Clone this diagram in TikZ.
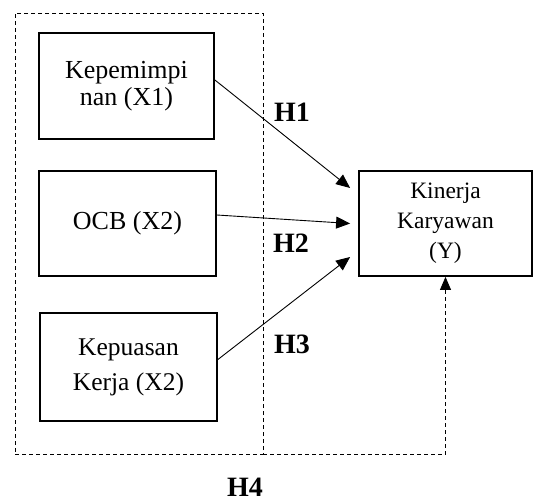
\documentclass[tikz,border=0pt]{standalone}
\usepackage{fontspec}
\setmainfont{Liberation Serif}
\usetikzlibrary{arrows.meta}
\begin{document}
\begin{tikzpicture}[x=1pt,y=-1pt,
  box/.style={draw,line width=1.8pt,inner sep=0pt,align=center},
  lbox/.style={box,font=\fontsize{26}{27}\selectfont},
  hlab/.style={font=\fontsize{28}{30}\selectfont\bfseries,inner sep=0pt,text depth=0pt},
  arr/.style={line width=0.9pt,-{Triangle[length=14pt,width=12pt]}},
  dline/.style={line width=0.8pt,dash pattern=on 4pt off 3pt}]
\useasboundingbox (0,0) rectangle (533,501);
\node[dline,draw,minimum width=248pt,minimum height=441pt,inner sep=0pt] (grp) at (139,233.5) {};
\node[lbox,minimum width=175pt,minimum height=106pt] (b1) at (126.5,86) {Kepemimpi\\nan (X1)};
\node[lbox,minimum width=177pt,minimum height=105pt] (b2) at (127.5,223.5) {OCB (X2)};
\node[box,font=\fontsize{25.5}{35}\selectfont,minimum width=177pt,minimum height=108pt] (b3) at (128.5,367) {Kepuasan\\Kerja (X2)};
\node[box,font=\fontsize{23.5}{30}\selectfont,minimum width=173pt,minimum height=105pt] (y) at (445.5,223.5) {Kinerja\\Karyawan\\(Y)};
\draw[arr] ([yshift=6pt]b1.east) -- ([xshift=-8pt,yshift=35.5pt]y.west);
\draw[arr] ([yshift=8.5pt]b2.east) -- ([xshift=-8pt]y.west);
\draw[arr] ([yshift=7.5pt]b3.east) -- ([xshift=-8pt,yshift=-33.5pt]y.west);
\draw[dline,-{Triangle[length=13pt,width=11pt]}] (grp.south east) -| (y.south);
\node[hlab] (h1) at (292,112) {H1};
\node[hlab] (h2) at (291,243) {H2};
\node[hlab] (h3) at (292,344) {H3};
\node[hlab] (h4) at (245,487) {H4};
\end{tikzpicture}
\end{document}
